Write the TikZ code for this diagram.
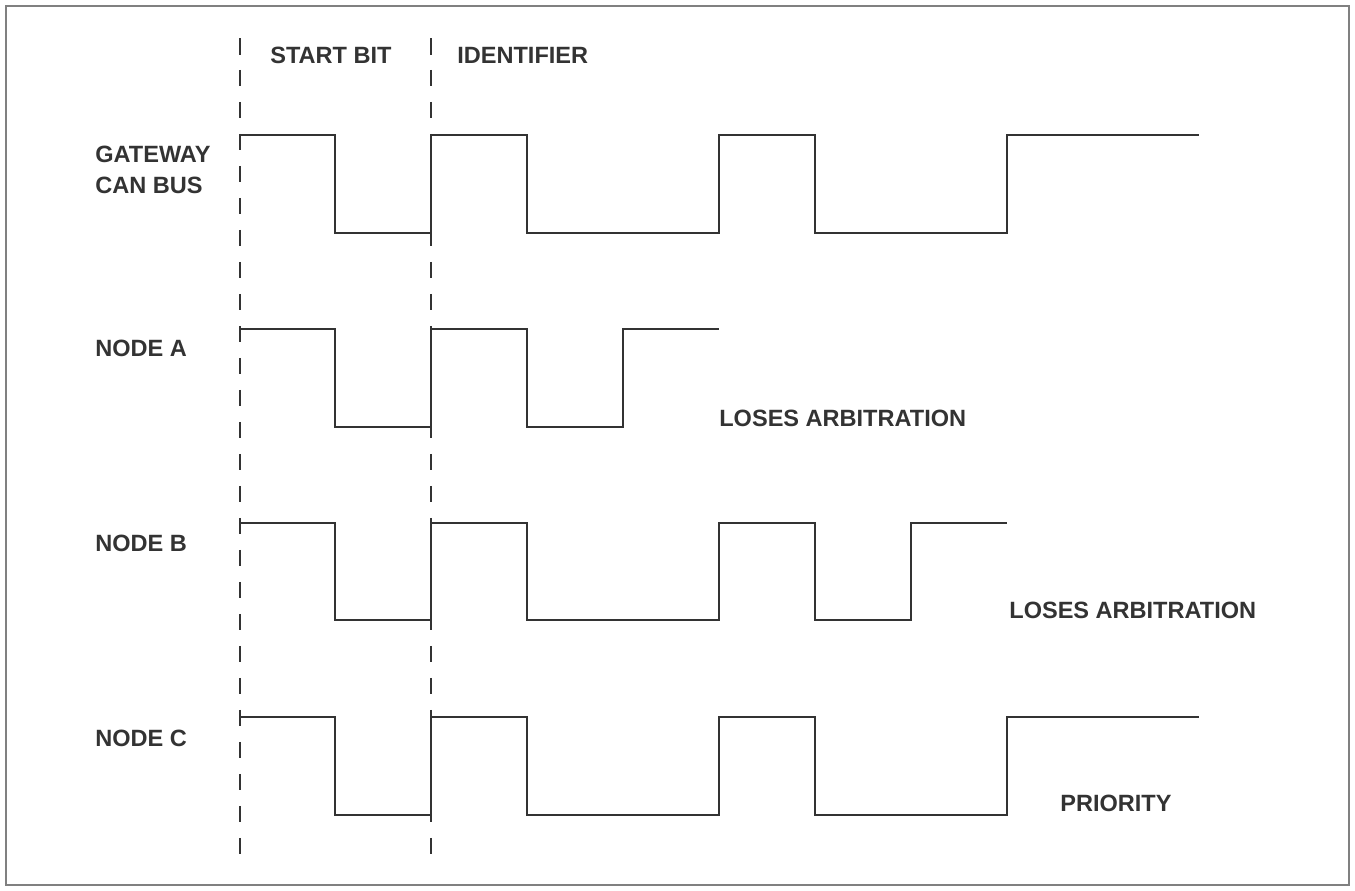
\documentclass[tikz,border=0pt]{standalone}
\usepackage{fontspec}
\setmainfont{Liberation Sans}
\usepackage{tikz}
\usepackage{xcolor}

\definecolor{ink}{HTML}{333333}
\tikzset{
  wave/.style={draw=ink, line width=1.1pt},
  divider/.style={draw=ink, line width=1.1pt, dash pattern=on 0.33cm off 0.31cm},
  lbl/.style={anchor=west, inner sep=0pt, text=ink, align=left,
    font=\bfseries\fontsize{13.4}{17.6}\selectfont}
}

\begin{document}
\begin{tikzpicture}[x=0.02cm,y=-0.02cm]
\useasboundingbox (0,0) rectangle (1355,890);
\draw[gray, line width=0.8pt] (6,6) rectangle (1349,885);

% bit boundaries
\draw[divider] (240,38) -- (240,862);
\draw[divider] (431,38) -- (431,862);

\node[lbl] (startbit) at (270,55) {START BIT};
\node[lbl] (ident) at (457,55) {IDENTIFIER};

% gateway
\node[lbl] (gw) at (95,170) {GATEWAY\\CAN BUS};
\draw[wave] (240,135) -- (335,135) -- (335,233) -- (431,233) -- (431,135) -- (527,135)
  -- (527,233) -- (719,233) -- (719,135) -- (815,135) -- (815,233) -- (1007,233)
  -- (1007,135) -- (1199,135);

% node A
\node[lbl] (nodea) at (95,348) {NODE A};
\draw[wave] (240,329) -- (335,329) -- (335,427) -- (431,427) -- (431,329) -- (527,329)
  -- (527,427) -- (623,427) -- (623,329) -- (719,329);
\node[lbl] (losea) at (719,418) {LOSES ARBITRATION};

% node B
\node[lbl] (nodeb) at (95,543) {NODE B};
\draw[wave] (240,523) -- (335,523) -- (335,620) -- (431,620) -- (431,523) -- (527,523)
  -- (527,620) -- (719,620) -- (719,523) -- (815,523) -- (815,620) -- (911,620)
  -- (911,523) -- (1007,523);
\node[lbl] (loseb) at (1009,610) {LOSES ARBITRATION};

% node C
\node[lbl] (nodec) at (95,738) {NODE C};
\draw[wave] (240,717) -- (335,717) -- (335,815) -- (431,815) -- (431,717) -- (527,717)
  -- (527,815) -- (719,815) -- (719,717) -- (815,717) -- (815,815) -- (1007,815)
  -- (1007,717) -- (1199,717);
\node[lbl] (prio) at (1060,803) {PRIORITY};

\end{tikzpicture}
\end{document}
